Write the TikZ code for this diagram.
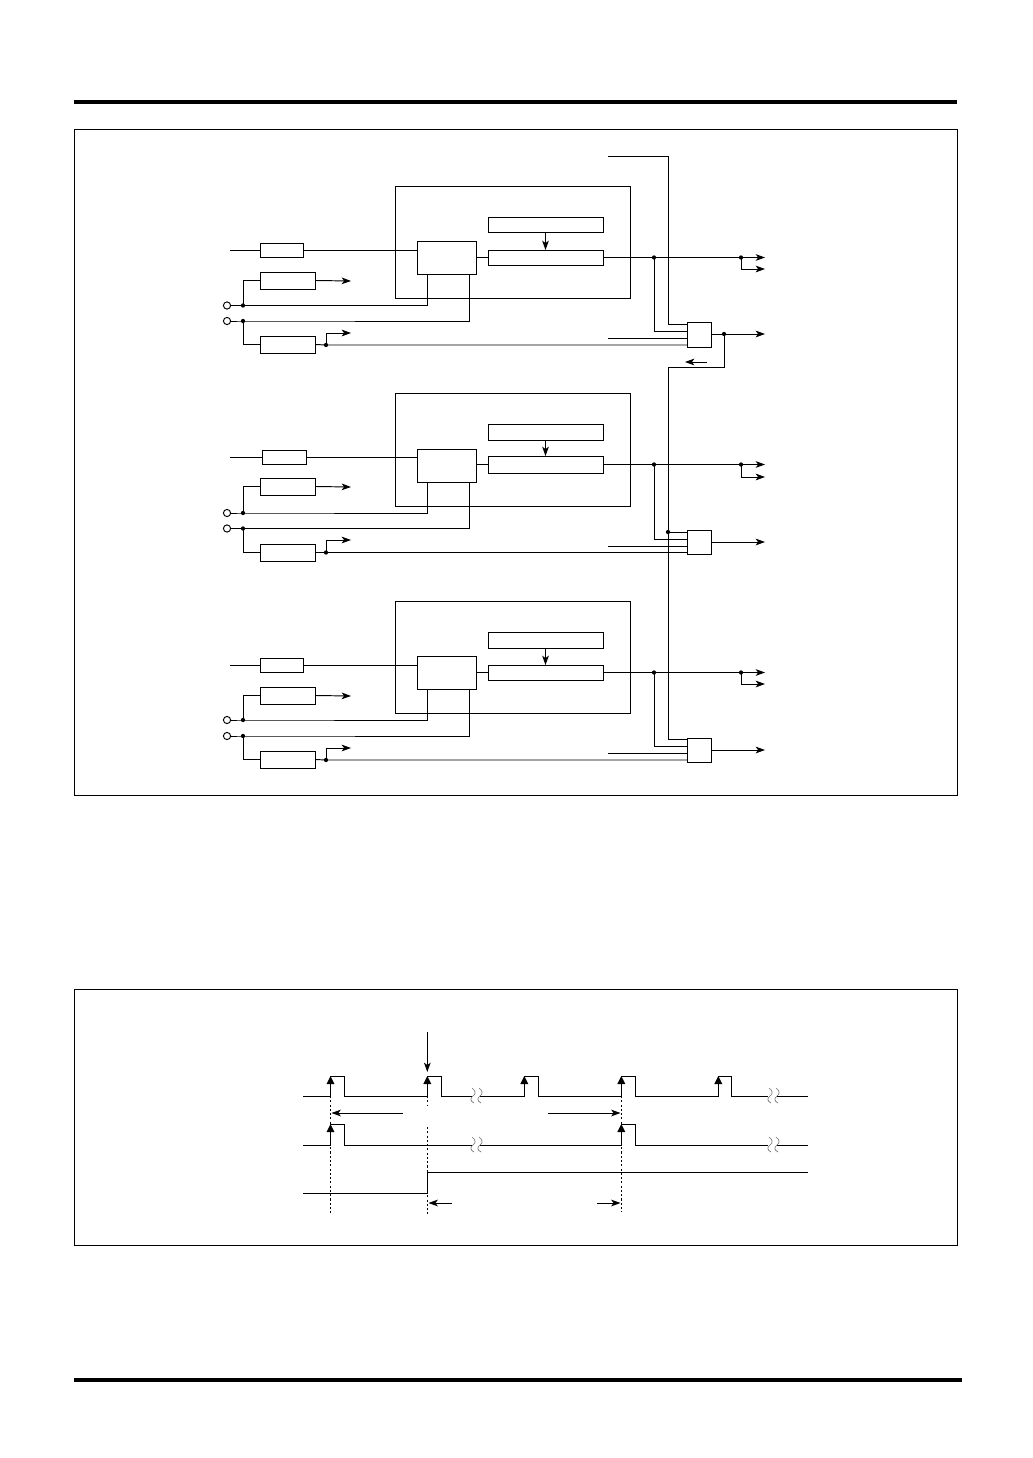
\documentclass[tikz,border=0pt]{standalone}
\usetikzlibrary{arrows.meta}
\tikzset{
  wire/.style={line width=0.72pt,line cap=butt,line join=miter},
  blockbox/.style={draw,line width=0.72pt,inner sep=0pt,outer sep=0pt},
  sig/.style={wire,-{Stealth[length=7pt,width=5pt,inset=1.8pt]}},
  smallsig/.style={wire,-{Stealth[length=7pt,width=5pt,inset=1.8pt]}},
  port/.style={circle,draw,line width=0.72pt,minimum size=5.4pt,inner sep=0pt,outer sep=0pt},
  junction/.style={circle,fill,inner sep=0pt,minimum size=3.2pt},
  dotline/.style={line width=0.72pt,dash pattern=on 1.6pt off 1.6pt},
  edge mark/.style={fill=black,draw=none},
  breakmark/.style={line width=0.5pt,draw=black!55},
  rulebar/.style={line width=3pt},
  frame/.style={line width=0.72pt}
}
\newcommand\bx[5]{%
  \pgfmathsetmacro\bxw{(#4-#2)*0.75}\pgfmathsetmacro\bxh{(#5-#3)*0.75}%
  \node[blockbox,minimum width=\bxw pt,minimum height=\bxh pt,anchor=north west] (#1) at (#2,#3) {};}
\newcommand\upmark[2]{\path[edge mark] (#1,#2) -- ++(4,8) -- ++(-8,0) -- cycle;}
\newcommand\onebrk[2]{%
  \draw[breakmark] (#1-1,#2-8) .. controls (#1+3,#2-5) and (#1+3,#2-2) .. (#1,#2) .. controls (#1-3,#2+2) and (#1-3,#2+5) .. (#1+1,#2+7);}
\newcommand\brk[2]{\onebrk{#1}{#2}\onebrk{#1+7}{#2}}
\begin{document}
\begin{tikzpicture}[x=0.75pt,y=-0.75pt]
\useasboundingbox (0,0) rectangle (1032,1458);
\coordinate (ruleTL) at (74,102); \coordinate (ruleTR) at (957,102);
\coordinate (ruleBL) at (74,1380); \coordinate (ruleBR) at (962,1380);
\draw[rulebar] (ruleTL) -- (ruleTR);
\draw[rulebar] (ruleBL) -- (ruleBR);
\draw[frame] (74.5,129.5) rectangle (957.5,795.5);
\draw[frame] (74.5,989.5) rectangle (957.5,1245.5);
% three channels
\foreach \u/\ixa/\ixb/\iy/\bigt/\bigb/\innt/\innb/\rat/\rab/\rbb/\ry/\twot/\twob/\twoy/\cpa/\cpb/\thrt/\thrb/\thry/\upy/\outb/\gt/\gb/\gia/\gib/\gic/\go in {
 1/260/303.5/250/186/298/241/274/217/232/265/257.5/272/289/281/305.5/321/336/353/345/333/269/322/347/324/331/338/334,
 2/262/306.5/457/393/506.5/449/482.5/424/440/473/464.5/478/495/487/513/528.5/544/561/552.5/540/477/530/554.5/532/539/546/542,
 3/260/303.5/665/601/713/656/689/632/648/680/672.5/687/704/696/720/736/751/768/760/748/684/738/762.5/739/746/753/750}{
  % boxes
  \bx{big\u}{395.5}{\bigt}{630.5}{\bigb}
  \bx{inner\u}{417}{\innt}{476.5}{\innb}
  \bx{regA\u}{488}{\rat}{603}{\rab}
  \pgfmathsetmacro\rbt{2*\ry-\rbb}
  \bx{regB\u}{488}{\rbt}{603}{\rbb}
  \pgfmathsetmacro\ibt{\iy-7}\pgfmathsetmacro\ibb{\iy+7}
  \bx{inbox\u}{\ixa}{\ibt}{\ixb}{\ibb}
  \bx{two\u}{260}{\twot}{315.5}{\twob}
  \bx{three\u}{260}{\thrt}{315.5}{\thrb}
  \bx{gate\u}{687}{\gt}{711.5}{\gb}
  \node[port] (pa\u) at (227,\cpa) {};
  \node[port] (pb\u) at (227,\cpb) {};
  % named points
  \coordinate (inS\u) at (230,\iy);
  \coordinate (ja\u) at (243,\cpa);
  \coordinate (jb\u) at (243,\cpb);
  \coordinate (ta\u) at (427,\innb);
  \coordinate (tb\u) at (469.5,\innb);
  \coordinate (up\u) at (326,\thry);
  \coordinate (upE\u) at (351,\upy);
  \coordinate (twoE\u) at (351,\twoy);
  \coordinate (jr\u) at (654,\ry);
  \coordinate (jo\u) at (741,\ry);
  \coordinate (outA\u) at (765,\ry);
  \coordinate (outB\u) at (765,\outb);
  \coordinate (gExt\u) at (608,\gic);
  \coordinate (gOut\u) at (765,\go);
  % wires
  \draw[wire] (inS\u) -- (inbox\u.west);
  \draw[wire] (inbox\u.east) -- (inner\u.west |- inbox\u.east);
  \draw[wire] (inner\u.east |- regB\u.west) -- (regB\u.west);
  \draw[smallsig] (regA\u.south) -- (regB\u.north);
  \draw[wire] (pa\u.east) -- (ja\u) -- (ja\u -| ta\u) -- (ta\u);
  \draw[wire] (pb\u.east) -- (jb\u) -- (jb\u -| tb\u) -- (tb\u);
  \draw[wire] (ja\u) |- (two\u.west);
  \draw[sig] (two\u.east) -- (twoE\u);
  \draw[wire] (jb\u) |- (three\u.west);
  \draw[wire] (three\u.east) -- (up\u) -- (up\u -| gate\u.west);
  \draw[sig] (up\u) |- (upE\u);
  \draw[sig] (regB\u.east) -- (outA\u);
  \draw[sig] (jo\u) |- (outB\u);
  \draw[wire] (jr\u) |- (gate\u.west |- 0,\gib);
  \draw[wire] (gExt\u) -- (gExt\u -| gate\u.west);
  \draw[sig] (gate\u.east |- gOut\u) -- (gOut\u);
  % dots
  \node[junction] (dA\u) at (ja\u) {};
  \node[junction] (dB\u) at (jb\u) {};
  \node[junction] (dU\u) at (up\u) {};
  \node[junction] (dR\u) at (jr\u) {};
  \node[junction] (dO\u) at (jo\u) {};
}
% common line
\coordinate (sync) at (608,156.5);
\coordinate (busTop) at (668,156.5);
\coordinate (busFb) at (668,367);
\coordinate (fbJ) at (724,334);
\coordinate (fbArrA) at (707,362);
\coordinate (fbArrB) at (685,362);
\coordinate (busTwo) at (668,532);
\coordinate (busThree) at (668,739);
\draw[wire] (sync) -- (busTop) |- (gate1.west |- 0,324);
\draw[wire] (fbJ) |- (busFb) -- (busThree) -- (gate3.west |- busThree);
\draw[wire] (busTwo) -- (gate2.west |- busTwo);
\draw[smallsig] (fbArrA) -- (fbArrB);
\node[junction] (dFb) at (fbJ) {};
\node[junction] (dBus) at (busTwo) {};
% timing chart
\draw[wire] (303,1096) -- (330.5,1096) -- (330.5,1076) -- (344.7,1076) -- (344.7,1096) -- (427.3,1096) -- (427.3,1076) -- (441.7,1076) -- (441.7,1096) -- (472,1096);
\draw[wire] (480,1096) -- (524.3,1096) -- (524.3,1076) -- (538.3,1076) -- (538.3,1096) -- (621.3,1096) -- (621.3,1076) -- (635.7,1076) -- (635.7,1096) -- (718.3,1096) -- (718.3,1076) -- (731.7,1076) -- (731.7,1096) -- (768,1096);
\draw[wire] (777,1096) -- (808,1096);
\draw[wire] (303,1145.3) -- (330.5,1145.3) -- (330.5,1124.3) -- (344.7,1124.3) -- (344.7,1145.3) -- (472,1145.3);
\draw[wire] (480,1145.3) -- (621.3,1145.3) -- (621.3,1124.3) -- (635.7,1124.3) -- (635.7,1145.3) -- (768,1145.3);
\draw[wire] (777,1145.3) -- (808,1145.3);
\draw[wire] (303,1193.3) -- (427.3,1193.3) -- (427.3,1172.3) -- (808,1172.3);
\draw[dotline] (330.5,1096) -- (330.5,1215);
\draw[dotline] (427.3,1096) -- (427.3,1105);
\draw[dotline] (427.3,1127) -- (427.3,1215);
\draw[dotline] (621.3,1096) -- (621.3,1212);
\upmark{330.5}{1076}\upmark{427.3}{1076}\upmark{524.3}{1076}\upmark{621.3}{1076}\upmark{718.3}{1076}
\upmark{330.5}{1124}\upmark{621.3}{1124}
\brk{473}{1096}\brk{770}{1096}\brk{473}{1145}\brk{770}{1145}
\draw[sig] (427.3,1032) -- (427.3,1072);
\draw[sig] (403,1113) -- (331.5,1113);
\draw[sig] (548,1113) -- (620.5,1113);
\draw[sig] (452,1203) -- (428.5,1203);
\draw[sig] (597,1203) -- (620.5,1203);
\end{tikzpicture}
\end{document}
